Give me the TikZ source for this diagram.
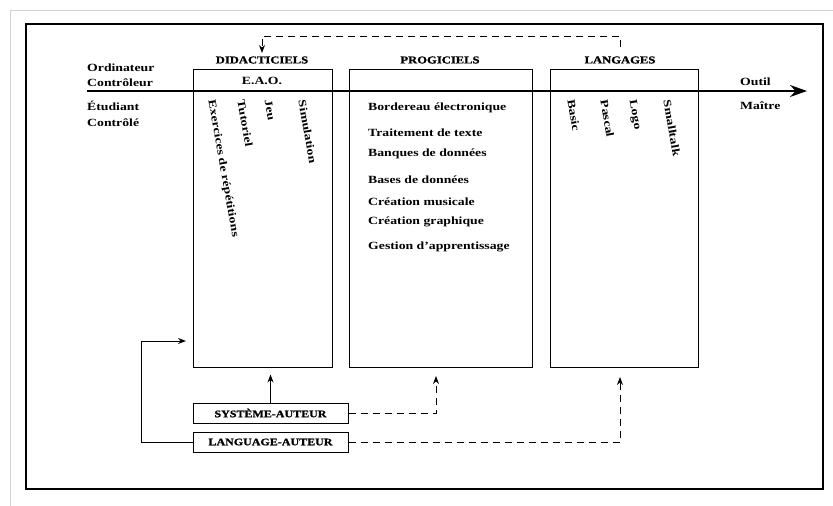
\documentclass[tikz,border=0pt]{standalone}
\usepackage{fontspec}
\setmainfont{Liberation Serif}[FakeStretch=1.25]
\newfontfamily\heavyfont{Liberation Serif}[FakeStretch=1.2,BoldFeatures={FakeBold=1.2}]
\usetikzlibrary{arrows.meta,positioning}
\tikzset{
	catbox/.style={draw,line width=1pt,minimum height=298pt,inner sep=0pt},
	authbox/.style={draw,line width=1pt,minimum width=155pt,minimum height=20pt,inner sep=0pt,font=\heavyfont\bfseries\fontsize{10}{11}\selectfont},
	head/.style={font=\heavyfont\bfseries\fontsize{10.5}{12}\selectfont,inner sep=0pt},
	item/.style={font=\bfseries\fontsize{11}{12}\selectfont,anchor=west,inner sep=0pt},
	vitem/.style={item,rotate=-80},
	link/.style={line width=1pt,-{Stealth[length=8pt,width=6pt]}},
	dlink/.style={link,dash pattern=on 7pt off 5pt},
}
\begin{document}
\begin{tikzpicture}[x=1pt,y=-1pt]
			\useasboundingbox(0,0)rectangle(833,506);
			\draw[gray!35,line width=1pt](10,506)--(10,10)--(833,10);
			\draw[line width=2pt](26,24)rectangle(823,489);
			% the three families
			\node[catbox,minimum width=139pt](didac)at(262.5,218){};
			\node[catbox,minimum width=183pt](progi)at(440.5,218){};
			\node[catbox,minimum width=148pt](lang)at(624,218){};
			\node[head](didachead)at(262,60){DIDACTICIELS};
			\node[head](progihead)at(440,60){PROGICIELS};
			\node[head](langhead)at(620,60){LANGAGES};
			\node[item,anchor=center](eao)at(262,81){E.A.O.};
			% axis
			\coordinate(axstart)at(87,91);
			\coordinate(axend)at(807,91);
			\draw[line width=1.3pt,-{Stealth[length=17pt,width=12pt]}](axstart)--(axend);
			\node[item](ordi)at(87,68){Ordinateur};
			\node[item](ctrl)at(87,83){Contrôleur};
			\node[item](etud)at(87,106){Étudiant};
			\node[item](ctrle)at(87,123){Contrôlé};
			\node[item](outil)at(740,82){Outil};
			\node[item](maitre)at(740,106){Maître};
			% didacticiels
			\node[vitem](exer)at(211,100){Exercices de répétitions};
			\node[vitem](tuto)at(241,100){Tutoriel};
			\node[vitem](jeu)at(268,100){Jeu};
			\node[vitem](simu)at(302,100){Simulation};
			% progiciels
			\node[item](bord)at(368,108){Bordereau électronique};
			\node[item](trait)at(368,133){Traitement de texte};
			\node[item](banq)at(368,154){Banques de données};
			\node[item](bases)at(368,180){Bases de données};
			\node[item](musi)at(368,202){Création musicale};
			\node[item](graph)at(368,222){Création graphique};
			\node[item](gest)at(368,247){Gestion d'apprentissage};
			% langages
			\node[vitem](basic)at(571,100){Basic};
			\node[vitem](pascal)at(604,100){Pascal};
			\node[vitem](logo)at(632,100){Logo};
			\node[vitem](small)at(667,100){Smalltalk};
			% auteurs
			\node[authbox](sysaut)at(270.5,413){SYSTÈME-AUTEUR};
			\node[authbox](langaut)at(270.5,442){LANGUAGE-AUTEUR};
			\coordinate(langtop)at(620,47);
			\coordinate(didactop)at(262,53);
			\coordinate(progin)at(436,376);
			\coordinate(langin)at(620,377);
			\coordinate(didacside)at(186,341);
			\draw[dlink](langtop)--++(0,-11)-|(didactop);
			\draw[link,shorten >=7pt](sysaut.north)--(sysaut.north|-didac.south);
			\draw[dlink](sysaut.east)-|(progin);
			\draw[dlink](langaut.east)-|(langin);
			\draw[link](langaut.west)--++(-51,0)|-(didacside);
		\end{tikzpicture}
\end{document}
